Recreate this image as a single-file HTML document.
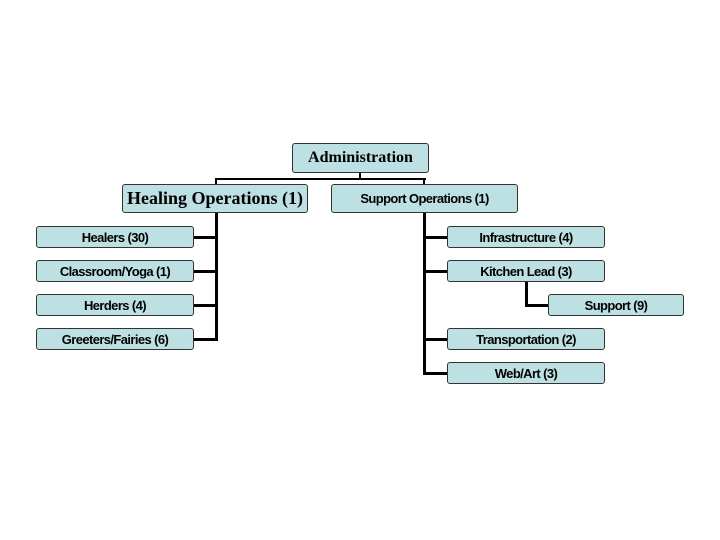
<!DOCTYPE html>
<html><head><style>
body{margin:0;width:720px;height:540px;background:#fff;position:relative;overflow:hidden}
.b{position:absolute;box-sizing:border-box;background:#bde0e2;border:1px solid #333;border-radius:3px;display:flex;align-items:center;justify-content:center;font:bold 13px "Liberation Sans",sans-serif;color:#000;letter-spacing:-0.6px;white-space:nowrap}
.s{font-family:"Liberation Serif",serif;letter-spacing:0}
.l{position:absolute;background:#000}
</style></head><body>
<div class="l" style="left:359px;top:172px;width:2px;height:8px"></div>
<div class="l" style="left:215px;top:178px;width:211px;height:2px"></div>
<div class="l" style="left:215px;top:178px;width:2px;height:7px"></div>
<div class="l" style="left:423px;top:178px;width:2px;height:7px"></div>
<div class="l" style="left:215px;top:212px;width:3px;height:129px"></div>
<div class="l" style="left:423px;top:212px;width:3px;height:163px"></div>
<div class="l" style="left:193px;top:236px;width:24px;height:3px"></div>
<div class="l" style="left:193px;top:270px;width:24px;height:3px"></div>
<div class="l" style="left:193px;top:304px;width:24px;height:3px"></div>
<div class="l" style="left:193px;top:338px;width:24px;height:3px"></div>
<div class="l" style="left:423px;top:236px;width:25px;height:3px"></div>
<div class="l" style="left:423px;top:270px;width:25px;height:3px"></div>
<div class="l" style="left:423px;top:338px;width:25px;height:3px"></div>
<div class="l" style="left:423px;top:372px;width:25px;height:3px"></div>
<div class="l" style="left:525px;top:281px;width:3px;height:25px"></div>
<div class="l" style="left:525px;top:304px;width:24px;height:3px"></div>
<div class="b s" style="left:292px;top:143px;width:137px;height:30px;font-size:16px">Administration</div>
<div class="b s" style="left:122px;top:184px;width:186px;height:29px;font-size:18px">Healing Operations (1)</div>
<div class="b" style="left:331px;top:184px;width:187px;height:29px">Support Operations (1)</div>
<div class="b" style="left:36px;top:226px;width:158px;height:22px">Healers (30)</div>
<div class="b" style="left:36px;top:260px;width:158px;height:22px">Classroom/Yoga (1)</div>
<div class="b" style="left:36px;top:294px;width:158px;height:22px">Herders (4)</div>
<div class="b" style="left:36px;top:328px;width:158px;height:22px">Greeters/Fairies (6)</div>
<div class="b" style="left:447px;top:226px;width:158px;height:22px">Infrastructure (4)</div>
<div class="b" style="left:447px;top:260px;width:158px;height:22px">Kitchen Lead (3)</div>
<div class="b" style="left:548px;top:294px;width:136px;height:22px">Support (9)</div>
<div class="b" style="left:447px;top:328px;width:158px;height:22px">Transportation (2)</div>
<div class="b" style="left:447px;top:362px;width:158px;height:22px">Web/Art (3)</div>
</body></html>
